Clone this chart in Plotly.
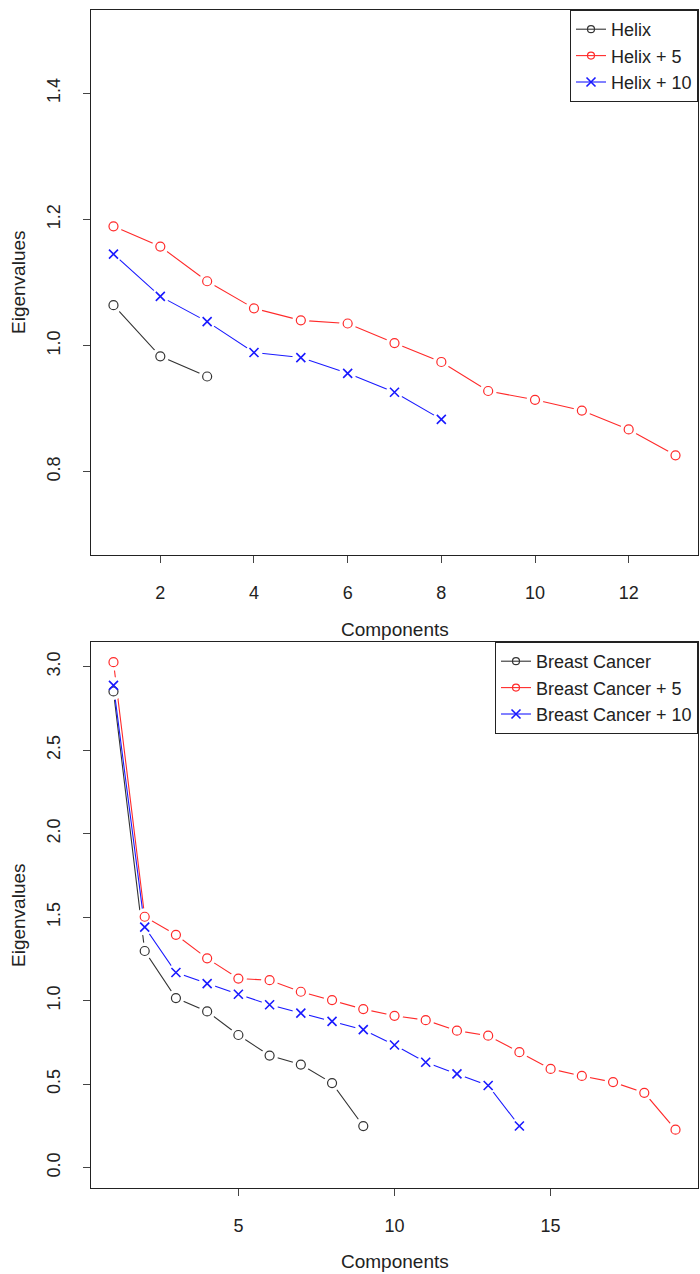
import plotly.graph_objects as go

# ---------------- data ----------------
helix_x = list(range(1, 4))
helix = [1.064, 0.983, 0.951]
helix5_x = list(range(1, 14))
helix5 = [1.189, 1.157, 1.102, 1.059, 1.040, 1.035, 1.004, 0.974, 0.928, 0.914, 0.897, 0.867, 0.826]
helix10_x = list(range(1, 9))
helix10 = [1.145, 1.078, 1.038, 0.989, 0.981, 0.956, 0.926, 0.883]

bc_x = list(range(1, 10))
bc = [2.852, 1.298, 1.016, 0.936, 0.795, 0.672, 0.618, 0.507, 0.250]
bc5_x = list(range(1, 20))
bc5 = [3.027, 1.503, 1.395, 1.254, 1.133, 1.123, 1.054, 1.004, 0.950, 0.910,
       0.884, 0.821, 0.791, 0.692, 0.592, 0.550, 0.513, 0.449, 0.228]
bc10_x = list(range(1, 15))
bc10 = [2.888, 1.441, 1.169, 1.103, 1.039, 0.976, 0.926, 0.877, 0.827, 0.735,
        0.632, 0.562, 0.493, 0.250]

top_names = ["Helix", "Helix + 5", "Helix + 10"]
bot_names = ["Breast Cancer", "Breast Cancer + 5", "Breast Cancer + 10"]

top_xticks = [2, 4, 6, 8, 10, 12]
top_yticks = [0.8, 1.0, 1.2, 1.4]
bot_xticks = [5, 10, 15]
bot_yticks = [0.0, 0.5, 1.0, 1.5, 2.0, 2.5, 3.0]

# ---------------- styles ----------------
W, H = 700, 1274
colors = ["#333333", "#ff2a2a", "#1a1aff"]
symbols = ["circle", "circle", "x-thin-open"]
FONT = "Liberation Sans, Arial, Helvetica, sans-serif"
TXT = "#222222"

fig = go.Figure()

panels = [
    ("x", "y", "legend", [(helix_x, helix), (helix5_x, helix5), (helix10_x, helix10)], top_names),
    ("x2", "y2", "legend2", [(bc_x, bc), (bc5_x, bc5), (bc10_x, bc10)], bot_names),
]

for xa, ya, lg, series, names in panels:
    # lines
    for (xs, ys), c in zip(series, colors):
        fig.add_trace(go.Scatter(x=xs, y=ys, mode="lines", xaxis=xa, yaxis=ya,
                                 line=dict(color=c, width=1.1), showlegend=False,
                                 hoverinfo="skip"))
    # gaps around points (type="b" look)
    for (xs, ys), c in zip(series, colors):
        fig.add_trace(go.Scatter(x=xs, y=ys, mode="markers", xaxis=xa, yaxis=ya,
                                 marker=dict(symbol="circle", size=17, color="white",
                                             line=dict(width=0)),
                                 showlegend=False, hoverinfo="skip"))
    # symbols
    for (xs, ys), c, s in zip(series, colors, symbols):
        if s == "circle":
            mk = dict(symbol="circle", size=9, color="rgba(255,255,255,0)",
                      line=dict(color=c, width=1.2))
        else:
            mk = dict(symbol="x-thin-open", size=9, color=c, line=dict(color=c, width=1.6))
        fig.add_trace(go.Scatter(x=xs, y=ys, mode="markers", xaxis=xa, yaxis=ya,
                                 marker=mk, showlegend=False))
    # legend proxies
    for name, c, s in zip(names, colors, symbols):
        if s == "circle":
            mk = dict(symbol="circle-open", size=7, color=c, line=dict(color=c, width=1.2))
        else:
            mk = dict(symbol="x-thin-open", size=9, color=c, line=dict(color=c, width=1.6))
        fig.add_trace(go.Scatter(x=[None], y=[None], mode="lines+markers", name=name,
                                 xaxis=xa, yaxis=ya, legend=lg,
                                 line=dict(color=c, width=1.1), marker=mk))

xdom = [91 / W, 698 / W]
top_dom = [1 - 555 / H, 1 - 10 / H]
bot_dom = [1 - 1188 / H, 1 - 642 / H]

axis_common = dict(showline=True, mirror=True, linecolor="#222222", linewidth=1,
                   ticks="outside", ticklen=7, tickcolor="#444444", tickwidth=1,
                   showgrid=False, zeroline=False,
                   tickfont=dict(family=FONT, size=18, color=TXT))

legend_common = dict(xanchor="right", yanchor="top", bgcolor="white",
                     bordercolor="#222222", borderwidth=1,
                     font=dict(family=FONT, size=18, color=TXT),
                     itemwidth=30, tracegroupgap=0)

title_font = dict(family=FONT, size=19, color=TXT)

fig.update_layout(
    width=W, height=H,
    margin=dict(l=0, r=0, t=0, b=0),
    paper_bgcolor="white", plot_bgcolor="white",
    font=dict(family=FONT, color=TXT),
    xaxis=dict(domain=xdom, anchor="y", range=[0.52, 13.48], tickvals=top_xticks,
               ticklabelstandoff=14, **axis_common),
    yaxis=dict(domain=top_dom, anchor="x", range=[0.668, 1.532], tickvals=top_yticks,
               tickformat=".1f", tickangle=-90, ticklabelstandoff=16, **axis_common),
    xaxis2=dict(domain=xdom, anchor="y2", range=[0.28, 19.72], tickvals=bot_xticks,
                ticklabelstandoff=14, **axis_common),
    yaxis2=dict(domain=bot_dom, anchor="x2", range=[-0.121, 3.148], tickvals=bot_yticks,
                tickformat=".1f", tickangle=-90, ticklabelstandoff=16, **axis_common),
    legend=dict(x=698 / W, y=1 - 10 / H, **legend_common),
    legend2=dict(x=698 / W, y=1 - 642 / H, **legend_common),
    annotations=[
        dict(text="Components", x=(91 + 698) / 2 / W, y=1 - 629 / H, xref="paper", yref="paper",
             xanchor="center", yanchor="middle", showarrow=False, font=title_font),
        dict(text="Components", x=(91 + 698) / 2 / W, y=1 - 1261 / H, xref="paper", yref="paper",
             xanchor="center", yanchor="middle", showarrow=False, font=title_font),
        dict(text="Eigenvalues", x=18 / W, y=1 - 282 / H, xref="paper", yref="paper",
             xanchor="center", yanchor="middle",
             textangle=-90, showarrow=False, font=title_font),
        dict(text="Eigenvalues", x=18 / W, y=1 - 915 / H, xref="paper", yref="paper",
             xanchor="center", yanchor="middle",
             textangle=-90, showarrow=False, font=title_font),
    ],
)

fig.write_html("out.html")
